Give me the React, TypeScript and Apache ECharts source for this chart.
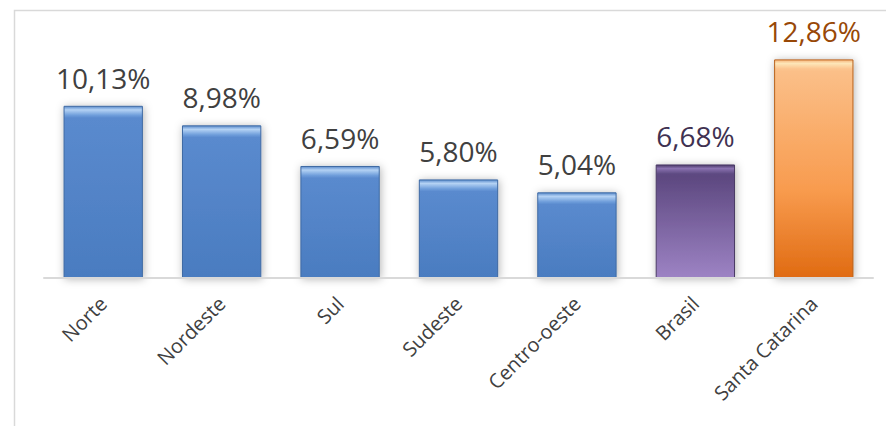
import React, { useEffect, useRef } from "react";
import * as echarts from "echarts";

const categories = ["Norte", "Nordeste", "Sul", "Sudeste", "Centro-oeste", "Brasil", "Santa Catarina"];
const values = [10.13, 8.98, 6.59, 5.8, 5.04, 6.68, 12.86];
const kinds = ["regiao", "regiao", "regiao", "regiao", "regiao", "brasil", "sc"];

const PX_PER_UNIT = 17;

function fillFor(kind: string, v: number) {
  const h = v * PX_PER_UNIT;
  const b = Math.min(0.2, 9 / h);
  if (kind === "brasil") {
    return new echarts.graphic.LinearGradient(0, 0, 0, 1, [
      { offset: 0, color: "#4a3868" },
      { offset: b * 0.4, color: "#8a72b0" },
      { offset: b, color: "#5e4a82" },
      { offset: b * 1.3, color: "#5d4880" },
      { offset: 1, color: "#9d83c4" },
    ]);
  }
  if (kind === "sc") {
    return new echarts.graphic.LinearGradient(0, 0, 0, 1, [
      { offset: 0, color: "#f7b47a" },
      { offset: b * 0.4, color: "#fde6b8" },
      { offset: b, color: "#fcc48e" },
      { offset: b * 1.3, color: "#fbbf88" },
      { offset: 0.6, color: "#f89b4e" },
      { offset: 1, color: "#e06b12" },
    ]);
  }
  return new echarts.graphic.LinearGradient(0, 0, 0, 1, [
    { offset: 0, color: "#5a8bcc" },
    { offset: b * 0.4, color: "#b4d2f4" },
    { offset: b, color: "#6f9edb" },
    { offset: b * 1.3, color: "#5a8ace" },
    { offset: 1, color: "#4a7cc0" },
  ]);
}

const borderFor: Record<string, string> = { regiao: "#3f6aa3", brasil: "#4a3a66", sc: "#b8621c" };
const labelColorFor: Record<string, string> = { regiao: "#404040", brasil: "#3f3151", sc: "#984807" };

export default function App() {
  const ref = useRef<HTMLDivElement>(null);
  useEffect(() => {
    document.body.style.margin = "0";
    const chart = echarts.init(ref.current!, undefined, { renderer: "svg" });
    const data = values.map((v, i) => ({
      value: v,
      itemStyle: {
        color: fillFor(kinds[i], v),
        borderColor: borderFor[kinds[i]],
        borderWidth: 1,
      },
      label: { color: labelColorFor[kinds[i]] },
    }));
    chart.setOption({
      animation: false,
      backgroundColor: "#ffffff",
      graphic: [
        {
          type: "rect",
          shape: { x: 14.5, y: 10.5, width: 900, height: 500 },
          style: { fill: "none", stroke: "#d9d9d9", lineWidth: 1.5 },
          silent: true,
        },
      ],
      grid: { left: 44, right: 13, top: 40, bottom: 148, containLabel: false },
      xAxis: {
        type: "category",
        data: categories,
        axisLine: { show: true, lineStyle: { color: "#d9d9d9", width: 2 } },
        axisTick: { show: false },
        axisLabel: {
          rotate: 45,
          interval: 0,
          margin: 22,
          fontFamily: "Open Sans",
          fontSize: 20,
          color: "#404040",
        },
        z: 5,
      },
      yAxis: {
        type: "value",
        min: 0,
        max: 14,
        show: false,
        splitLine: { show: false },
      },
      series: [
        {
          type: "bar",
          data,
          barWidth: "67%",
          itemStyle: {
            shadowBlur: 8,
            shadowColor: "rgba(0,0,0,0.3)",
            shadowOffsetX: 1,
            shadowOffsetY: 1,
          },
          label: {
            show: true,
            position: "top",
            distance: 14,
            fontFamily: "Open Sans",
            fontSize: 28,
            formatter: (p: any) => p.value.toFixed(2).replace(".", ",") + "%",
          },
        },
      ],
    });
    return () => chart.dispose();
  }, []);
  return <div ref={ref} style={{ width: 886, height: 426 }} />;
}
